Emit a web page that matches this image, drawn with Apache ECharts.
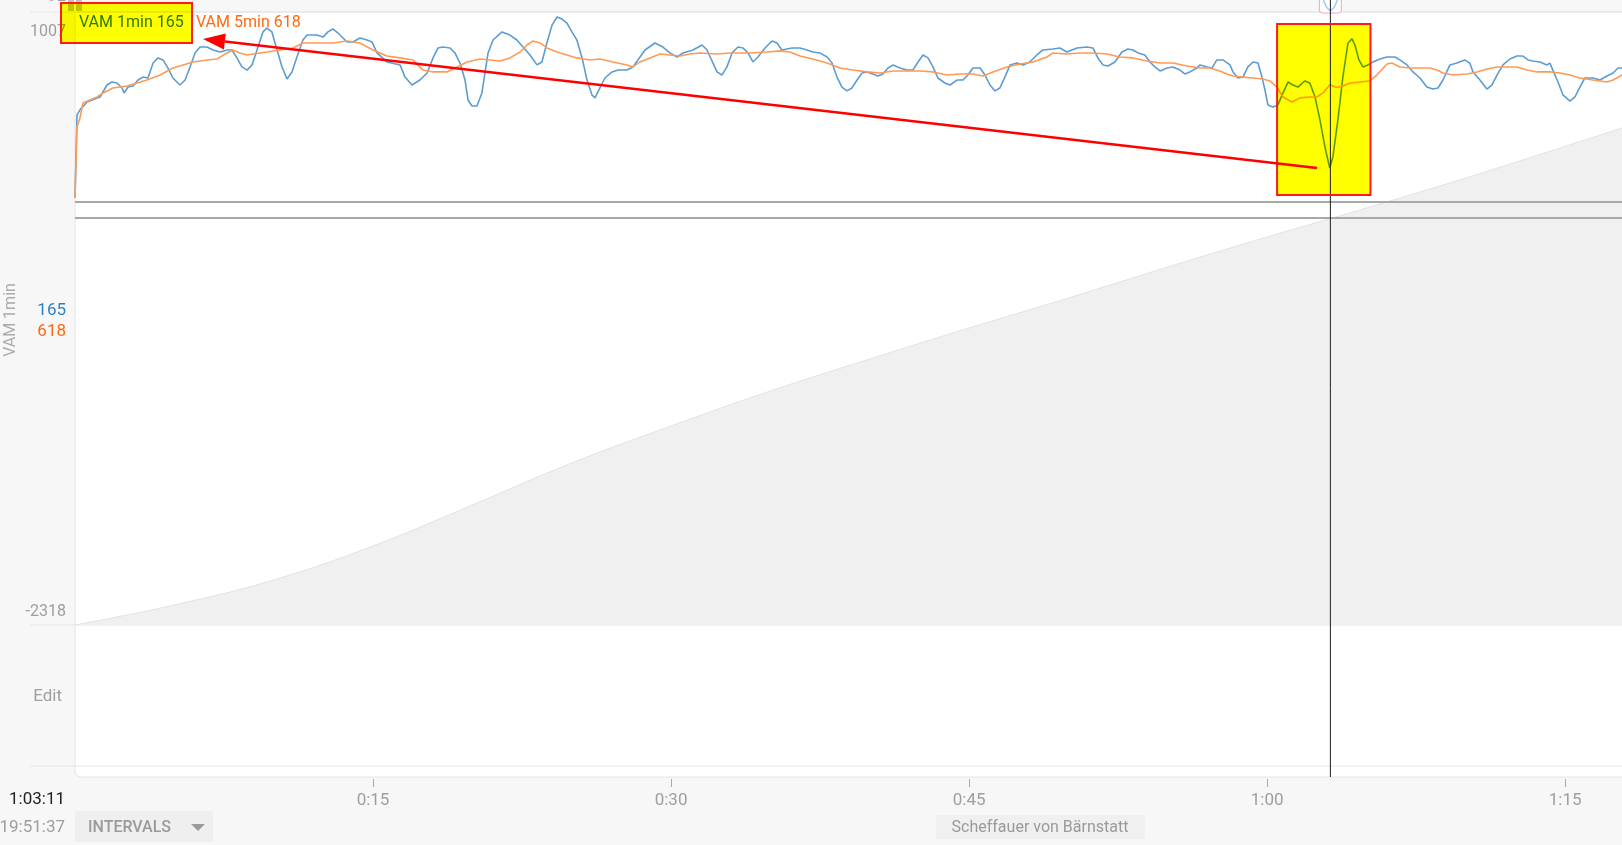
<!DOCTYPE html>
<html>
<head>
<meta charset="utf-8">
<title>VAM</title>
<script src="https://cdn.jsdelivr.net/npm/echarts@6/dist/echarts.min.js"></script>
<style>
  html, body { margin: 0; padding: 0; background: #f7f7f7; }
  #main { width: 1622px; height: 845px; }
</style>
</head>
<body>
<div id="main"></div>
<script>
// minutes from start, VAM (m/h)
const vam1min = [
  [0, 0], [0.1, 448], [0.25, 476], [0.6, 519], [1.11, 541], [1.26, 546], [1.61, 611], [1.86, 627], [2.11, 622], [2.37, 595],
  [2.47, 568], [2.67, 600], [2.92, 606], [3.17, 638], [3.42, 654], [3.67, 649], [3.93, 730], [4.18, 758], [4.43, 747], [4.68, 703],
  [4.93, 649], [5.28, 611], [5.54, 638], [5.79, 709], [6.04, 785], [6.29, 817], [6.64, 817], [6.95, 801], [7.3, 790], [7.65, 801],
  [7.9, 801], [8.15, 758], [8.4, 709], [8.66, 692], [8.91, 720], [9.16, 801], [9.46, 899], [9.66, 920], [9.91, 899], [10.17, 801],
  [10.42, 709], [10.67, 644], [10.92, 682], [11.17, 763], [11.47, 855], [11.68, 882], [12.18, 882], [12.48, 871], [12.73, 899], [12.98, 915],
  [13.24, 893], [13.69, 844], [13.99, 844], [14.34, 866], [14.7, 855], [14.95, 844], [15.2, 785], [15.7, 736], [16.36, 720], [16.61, 654],
  [16.96, 611], [17.36, 638], [17.72, 676], [18.02, 758], [18.27, 812], [18.52, 817], [18.87, 812], [19.12, 785], [19.38, 730], [19.63, 638],
  [19.78, 530], [19.98, 497], [20.23, 497], [20.48, 568], [20.63, 676], [20.79, 785], [21.04, 855], [21.49, 899], [21.89, 882], [22.24, 855],
  [22.55, 817], [22.9, 774], [23.25, 720], [23.5, 736], [23.75, 839], [24.01, 936], [24.26, 980], [24.51, 969], [24.76, 947], [25.01, 899],
  [25.26, 855], [25.52, 758], [25.77, 638], [26.02, 557], [26.17, 541], [26.42, 595], [26.67, 649], [27.03, 682], [27.33, 692], [27.78, 692],
  [28.08, 709], [28.33, 747], [28.69, 801], [29.19, 839], [29.59, 817], [29.94, 785], [30.3, 763], [30.6, 785], [31.1, 801], [31.56, 828],
  [31.81, 801], [32.11, 730], [32.31, 682], [32.56, 665], [32.81, 709], [33.07, 785], [33.37, 817], [33.62, 812], [33.87, 785], [34.12, 736],
  [34.37, 763], [34.73, 812], [35.08, 850], [35.33, 839], [35.58, 801], [36.09, 812], [36.49, 812], [36.84, 801], [37.14, 790], [37.49, 785],
  [37.85, 763], [38.1, 730], [38.35, 654], [38.6, 600], [38.85, 579], [39.1, 595], [39.36, 638], [39.61, 676], [39.86, 682], [40.16, 671],
  [40.41, 660], [40.66, 671], [40.92, 703], [41.17, 720], [41.52, 703], [41.87, 692], [42.17, 692], [42.43, 736], [42.68, 774], [42.93, 758],
  [43.18, 709], [43.43, 649], [43.78, 622], [44.04, 611], [44.39, 638], [44.69, 638], [44.94, 665], [45.19, 703], [45.55, 703], [45.8, 665],
  [46.05, 611], [46.3, 579], [46.55, 595], [46.8, 654], [47.06, 720], [47.41, 730], [47.71, 720], [48.06, 736], [48.41, 774], [48.72, 801],
  [49.22, 806], [49.57, 812], [49.92, 790], [50.43, 812], [50.93, 817], [51.23, 812], [51.48, 758], [51.74, 720], [51.99, 714], [52.34, 736],
  [52.69, 790], [52.99, 806], [53.25, 801], [53.5, 785], [53.85, 774], [54.1, 736], [54.35, 709], [54.61, 687], [54.96, 703], [55.26, 709],
  [55.61, 692], [55.86, 671], [56.11, 682], [56.47, 703], [56.62, 720], [56.97, 709], [57.22, 703], [57.47, 747], [57.78, 747], [58.13, 720],
  [58.28, 682], [58.53, 649], [58.78, 654], [59.03, 709], [59.29, 736], [59.54, 730], [59.74, 654], [59.89, 584], [60.04, 503], [60.29, 492],
  [60.54, 503], [60.8, 568], [61.05, 627], [61.3, 611], [61.55, 600], [61.9, 633], [62.15, 622], [62.41, 546], [62.66, 421], [62.91, 275],
  [63.15, 160], [63.31, 221], [63.56, 421], [63.81, 654], [64.07, 839], [64.27, 861], [64.42, 828], [64.62, 747], [64.82, 709], [65.07, 720],
  [65.32, 736], [65.68, 752], [66.03, 763], [66.43, 763], [66.68, 747], [67.04, 720], [67.34, 682], [67.69, 649], [68.04, 600], [68.34, 589],
  [68.6, 595], [68.85, 638], [69.2, 720], [69.55, 730], [69.95, 747], [70.2, 730], [70.36, 682], [70.71, 638], [71.06, 589], [71.31, 611],
  [71.57, 665], [71.87, 720], [72.22, 752], [72.57, 768], [72.87, 768], [73.13, 747], [73.38, 741], [73.73, 736], [74.08, 720], [74.23, 730],
  [74.38, 692], [74.64, 627], [74.89, 557], [75.24, 524], [75.49, 546], [75.74, 600], [75.99, 649], [76.4, 649], [76.75, 638], [77.1, 660],
  [77.41, 676], [77.66, 703], [77.86, 703]
];

const vam5min = [
  [0, 0], [0.1, 385], [0.25, 432], [0.4, 513], [0.75, 530], [1.11, 546], [1.41, 568], [1.91, 595], [2.26, 600], [2.62, 606],
  [3.12, 622], [3.62, 638], [4.28, 665], [4.93, 703], [5.44, 720], [5.94, 736], [6.64, 747], [7.15, 752], [7.65, 785], [7.95, 801],
  [8.3, 785], [8.66, 774], [8.96, 779], [9.66, 790], [10.32, 801], [10.97, 812], [11.47, 839], [12.33, 839], [12.98, 839], [13.69, 850],
  [14.34, 839], [15.0, 801], [15.7, 768], [16.36, 758], [17.01, 747], [17.51, 692], [18.02, 682], [18.72, 682], [19.23, 709], [19.73, 736],
  [20.38, 752], [20.89, 747], [21.39, 741], [21.89, 758], [22.4, 790], [22.75, 828], [23.05, 850], [23.4, 839], [23.75, 812], [24.26, 790],
  [24.76, 774], [25.26, 758], [25.92, 747], [26.42, 752], [27.08, 736], [27.78, 720], [28.08, 709], [28.43, 736], [28.94, 758], [29.44, 779],
  [29.94, 774], [30.45, 768], [30.95, 779], [31.45, 785], [32.31, 779], [32.96, 785], [33.97, 785], [34.83, 790], [35.48, 796], [35.98, 790],
  [36.49, 768], [37.14, 752], [37.85, 730], [38.5, 703], [39.15, 692], [39.86, 682], [40.51, 676], [41.17, 687], [41.87, 687], [42.53, 687],
  [43.18, 682], [43.88, 665], [44.54, 671], [45.19, 671], [45.7, 660], [46.2, 682], [46.91, 709], [47.56, 725], [48.21, 736], [48.92, 763],
  [49.22, 785], [49.92, 779], [50.58, 785], [51.23, 785], [51.94, 779], [52.59, 763], [53.25, 758], [53.95, 741], [54.61, 730], [55.26, 730],
  [55.96, 714], [56.62, 703], [57.12, 703], [57.62, 687], [57.98, 671], [58.28, 660], [58.78, 654], [59.29, 649], [59.79, 644], [60.14, 633],
  [60.49, 600], [60.8, 546], [61.25, 519], [61.65, 541], [62.15, 546], [62.51, 546], [62.81, 568], [63.16, 612], [63.51, 598], [63.81, 606],
  [64.17, 622], [64.67, 627], [65.17, 633], [65.52, 665], [66.03, 725], [66.28, 730], [66.68, 709], [67.19, 703], [67.69, 703], [68.19, 703],
  [68.55, 692], [68.85, 676], [69.35, 665], [70.06, 671], [70.56, 682], [71.06, 698], [71.57, 709], [72.07, 709], [72.57, 709], [73.08, 692],
  [73.58, 682], [74.23, 682], [74.74, 676], [75.24, 665], [75.74, 649], [76.4, 638], [77.1, 627], [77.41, 638], [77.86, 665]
];

// altitude (m) in the background
const altitude = [
  [0, 850], [5, 870], [10, 895], [15, 929], [20, 970], [25, 1012], [30, 1049], [35, 1084], [40, 1116],
  [45, 1147], [50, 1177], [55, 1208], [60, 1238], [65, 1267], [70, 1297], [77.86, 1347]
];

const vamRange = [-2318, 1007];
const altRange = [850, 1463];
const timeRange = [0, 77.86];
const refLines = [-24, -110];
const cursorMin = 63 + 11 / 60;
const cursorValues = [165, 618];
const highlight = { from: 60.5, to: 65.2, top: 942, bottom: 14 };

const FONT = "Roboto, 'Noto Sans', sans-serif";

const fmtTime = (v) => {
  const h = Math.floor(v / 60);
  const m = Math.round(v % 60);
  return h + ":" + (m < 10 ? "0" + m : m);
};

const chart = echarts.init(document.getElementById("main"));

const option = {
  animation: false,
  backgroundColor: "#f7f7f7",
  textStyle: { fontFamily: FONT },
  grid: [
    { left: 75, right: 0, top: 12, height: 613 },
    { left: 75, right: 0, top: 625, height: 154 },
  ],
  xAxis: [
    { type: "value", gridIndex: 0, min: timeRange[0], max: timeRange[1], show: false },
    {
      type: "value",
      gridIndex: 1,
      min: timeRange[0],
      max: timeRange[1],
      interval: 15,
      axisLine: { show: false },
      splitLine: { show: false },
      axisTick: { show: true, length: 8, lineStyle: { color: "#aaa" } },
      axisLabel: {
        color: "#9e9e9e",
        fontSize: 17,
        fontFamily: FONT,
        margin: 13,
        showMinLabel: false,
        showMaxLabel: false,
        formatter: fmtTime,
      },
    },
  ],
  yAxis: [
    { type: "value", gridIndex: 0, min: vamRange[0], max: vamRange[1], show: false },
    { type: "value", gridIndex: 0, min: altRange[0], max: altRange[1], show: false },
    { type: "value", gridIndex: 1, min: 0, max: 1, show: false },
  ],
  series: [
    {
      name: "Altitude",
      type: "line",
      xAxisIndex: 0,
      yAxisIndex: 1,
      data: altitude,
      showSymbol: false,
      smooth: 0.4,
      lineStyle: { color: "#e2e2e2", width: 1 },
      areaStyle: { color: "#f0f0f0", opacity: 1 },
      silent: true,
    },
    {
      name: "VAM 1min",
      type: "line",
      xAxisIndex: 0,
      yAxisIndex: 0,
      data: vam1min,
      showSymbol: false,
      lineStyle: { color: "#5c9cd3", width: 1.6 },
      markLine: {
        silent: true,
        symbol: "none",
        label: { show: false },
        lineStyle: { color: "#a8a8a8", width: 2, type: "solid" },
        data: refLines.map((v) => ({ yAxis: v })),
      },
    },
    {
      name: "VAM 5min",
      type: "line",
      xAxisIndex: 0,
      yAxisIndex: 0,
      data: vam5min,
      showSymbol: false,
      lineStyle: { color: "#ff9a55", width: 1.6 },
    },
  ],
};

chart.setOption(option);

// overlays placed through the chart's own scales
const toPx = (x, y) => chart.convertToPixel({ xAxisIndex: 0, yAxisIndex: 0 }, [x, y]);
const cx = chart.convertToPixel({ xAxisIndex: 0 }, cursorMin);
const hlA = toPx(highlight.from, highlight.top);
const hlB = toPx(highlight.to, highlight.bottom);
const panelTop = toPx(0, vamRange[1])[1];
const panelBottom = toPx(0, vamRange[0])[1];

const txt = (text, x, y, fill, size, align, extra) => ({
  type: "text",
  z: 60,
  style: Object.assign({
    text: text,
    x: x,
    y: y + 2,
    fill: fill,
    font: size + "px " + FONT,
    textAlign: align || "left",
    textVerticalAlign: "middle",
  }, extra || {}),
});

// arrow pointing at the legend box
const tip = [203, 39];
const tail = [1317, 168];
const dx = tail[0] - tip[0], dy = tail[1] - tip[1];
const len = Math.sqrt(dx * dx + dy * dy);
const ux = dx / len, uy = dy / len;
const base = [tip[0] + ux * 22, tip[1] + uy * 22];

chart.setOption({
  graphic: {
    elements: [
      // white plotting panel
      {
        type: "rect", z: -10,
        shape: { x: 75, y: panelTop, width: 1560, height: 777 - panelTop, r: [0, 0, 0, 6] },
        style: { fill: "#fff", stroke: "#e4e4e4", lineWidth: 1 },
      },
      // separators
      { type: "line", z: 1, shape: { x1: 30, y1: panelTop, x2: 1622, y2: panelTop }, style: { stroke: "#e6e6e6", lineWidth: 1 } },
      { type: "line", z: 1, shape: { x1: 30, y1: panelBottom, x2: 1622, y2: panelBottom }, style: { stroke: "#e6e6e6", lineWidth: 1 } },
      { type: "line", z: 1, shape: { x1: 30, y1: 766, x2: 1622, y2: 766 }, style: { stroke: "#e6e6e6", lineWidth: 1 } },

      // left labels
      txt("92", 66, -5, "#9e9e9e", 16, "right"),
      { type: "rect", z: 55, shape: { x: 68, y: 0, width: 6, height: 11 }, style: { fill: "#c2c2c2" } },
      { type: "rect", z: 55, shape: { x: 76, y: 0, width: 6, height: 11 }, style: { fill: "#c2c2c2" } },
      txt(String(vamRange[1]), 66, 30, "#9e9e9e", 16, "right"),
      txt(String(vamRange[0]), 66, 610, "#9e9e9e", 16, "right"),
      txt(String(cursorValues[0]), 66, 309, "#2f7fc6", 17, "right"),
      txt(String(cursorValues[1]), 66, 330, "#ff6a10", 17, "right"),
      {
        type: "text", z: 60, x: 11, y: 320, rotation: Math.PI / 2,
        style: { text: "VAM 1min", fill: "#ababab", font: "16px " + FONT, textAlign: "center", textVerticalAlign: "middle" },
      },
      txt("Edit", 62, 695, "#9e9e9e", 17, "right"),
      txt("1:03:11", 65, 798, "#222", 17, "right"),
      txt("19:51:37", 65, 826, "#9e9e9e", 17, "right"),

      // INTERVALS button
      { type: "rect", z: 5, shape: { x: 75, y: 811, width: 138, height: 31 }, style: { fill: "#efefef" } },
      txt("INTERVALS", 88, 826, "#9a9a9a", 16, "left", { font: "500 16px " + FONT }),
      { type: "polygon", z: 60, shape: { points: [[191, 824], [205, 824], [198, 831]] }, style: { fill: "#9a9a9a" } },

      // segment name
      { type: "rect", z: 5, shape: { x: 936, y: 815, width: 209, height: 24 }, style: { fill: "#f0f0f0" } },
      txt("Scheffauer von Bärnstatt", 1040, 826, "#9a9a9a", 16, "center"),

      // legend values
      txt("VAM 1min 165", 79, 21, "#2f7bc6", 16, "left"),
      txt("VAM 5min 618", 196, 21, "#ff6a10", 16, "left"),

      // cursor marker at the top
      {
        type: "rect", z: 95,
        shape: { x: cx - 11, y: -4, width: 22, height: 17, r: 3 },
        style: { fill: "#fff", stroke: "#f2a5c2", lineWidth: 1 },
      },
      {
        type: "polyline", z: 96,
        shape: { points: [[cx - 7, 0], [cx - 4, 7], [cx, 11], [cx + 4, 7], [cx + 7, 0]] },
        style: { stroke: "#9fcbee", lineWidth: 1.5, fill: null },
      },
      // cursor line
      { type: "line", z: 97, shape: { x1: cx, y1: 0, x2: cx, y2: 777 }, style: { stroke: "#1e1e1e", lineWidth: 1 } },

      // highlighter boxes
      {
        type: "rect", z: 100,
        shape: { x: 61, y: 3, width: 131, height: 40 },
        style: { fill: "#ffff00", blend: "multiply" },
      },
      {
        type: "rect", z: 101,
        shape: { x: 61, y: 3, width: 131, height: 40 },
        style: { fill: null, stroke: "#ff1a1a", lineWidth: 2 },
      },
      {
        type: "rect", z: 100,
        shape: { x: hlA[0], y: hlA[1], width: hlB[0] - hlA[0], height: hlB[1] - hlA[1] },
        style: { fill: "#ffff00", blend: "multiply" },
      },
      {
        type: "rect", z: 101,
        shape: { x: hlA[0], y: hlA[1], width: hlB[0] - hlA[0], height: hlB[1] - hlA[1] },
        style: { fill: null, stroke: "#ff1a1a", lineWidth: 2 },
      },

      // arrow
      {
        type: "line", z: 102,
        shape: { x1: tail[0], y1: tail[1], x2: base[0], y2: base[1] },
        style: { stroke: "#ff0000", lineWidth: 2.5 },
      },
      {
        type: "polygon", z: 102,
        shape: {
          points: [
            tip,
            [base[0] - uy * 8, base[1] + ux * 8],
            [base[0] + uy * 8, base[1] - ux * 8],
          ],
        },
        style: { fill: "#ff0000" },
      },
    ],
  },
});
</script>
</body>
</html>
